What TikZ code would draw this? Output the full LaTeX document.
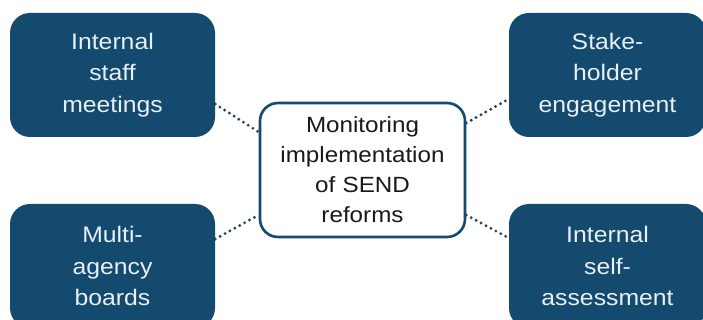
\documentclass[tikz,border=0pt]{standalone}
\usepackage{fontspec}
\setmainfont{Liberation Sans}[FakeStretch=1.1]
\usepackage{tikz}

\definecolor{boxblue}{HTML}{134A6E}
\definecolor{boxtext}{HTML}{E8F0F5}
\definecolor{linkgrey}{HTML}{24435C}

\begin{document}
\begin{tikzpicture}[
        x=1pt, y=-1pt,
        outer/.style={rectangle, rounded corners=20pt, fill=boxblue, text=boxtext, text width=190pt, align=center, minimum width=205pt, minimum height=124pt, inner sep=0pt, font=\fontsize{22.5}{31.5}\selectfont},
        centre/.style={rectangle, rounded corners=18pt, draw=boxblue, line width=2.6pt, fill=white, text=black!90, text width=195pt, align=center, minimum width=205pt, minimum height=134pt, inner sep=0pt, font=\fontsize{22}{30}\selectfont},
        link/.style={linkgrey, line width=3.2pt, line cap=round, dash pattern=on 0pt off 5.6pt}
    ]
    \clip (0,0) rectangle (703,320);
    \useasboundingbox (0,0) rectangle (703,320);

    % Nodes
    \node[centre] (monitor) at (362.5,170) {Monitoring\\implementation\\of SEND\\reforms};

    \node[outer] (staff) at (112.5,75) {Internal\\staff\\meetings};
    \node[outer, minimum width=197pt] (stake) at (607.5,75) {Stake-\\holder\\engagement};
    \node[outer] (boards) at (112.5,266) {Multi-\\agency\\boards};
    \node[outer, minimum width=197pt] (selfas) at (607.5,266) {Internal\\self-\\assessment};

    % Links
    \draw[link] ([yshift=-29pt]staff.east) -- ([yshift=38pt]monitor.west);
    \draw[link] ([yshift=27pt]boards.east) -- ([yshift=-45pt]monitor.west);
    \draw[link] ([yshift=47pt]monitor.east) -- ([yshift=-24pt]stake.west);
    \draw[link] ([yshift=-45pt]monitor.east) -- ([yshift=28pt]selfas.west);

\end{tikzpicture}
\end{document}
